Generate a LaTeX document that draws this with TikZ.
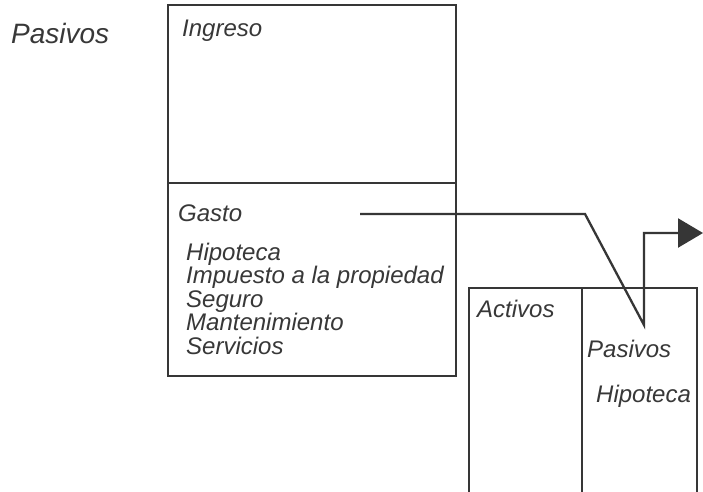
\documentclass[tikz,border=0pt]{standalone}
\usepackage{fontspec}
\setmainfont{Liberation Sans}
\usetikzlibrary{arrows.meta}
\definecolor{ink}{HTML}{363636}
\definecolor{txt}{HTML}{383838}
\begin{document}
\begin{tikzpicture}[x=1pt,y=-1pt,
  frame/.style={draw=ink,line width=2.3pt},
  lbl/.style={anchor=base west,inner sep=0pt,text=txt,font=\fontsize{24}{24}\selectfont\itshape},
  biglbl/.style={lbl,font=\fontsize{28}{28}\selectfont\itshape},
  conn/.style={draw=ink,line width=2.3pt,-{Triangle[length=25pt,width=29pt]}}]
\useasboundingbox[fill=white] (0,0) rectangle (703,491);
% upper T-account
\draw[frame] (168,5) rectangle (456,376);
\draw[frame] (168,183) -- (456,183);
% lower T-account
\draw[frame] (469,495) -- (469,288) -- (697,288) -- (697,495);
\draw[frame] (582,288) -- (582,495);
% labels
\node[biglbl] (pas0) at (11,43) {Pasivos};
\node[lbl] (ing) at (182,36) {Ingreso};
\node[lbl] (gas) at (178,221) {Gasto};
\node[lbl] (g1) at (186,260) {Hipoteca};
\node[lbl] (g2) at (186,283) {Impuesto a la propiedad};
\node[lbl] (g3) at (186,307) {Seguro};
\node[lbl] (g4) at (186,330) {Mantenimiento};
\node[lbl] (g5) at (186,354) {Servicios};
\node[lbl] (act) at (477,317) {Activos};
\node[lbl] (pas1) at (587,357) {Pasivos};
\node[lbl] (hip) at (596,402) {Hipoteca};
% connector
\coordinate (cs) at (360,214);
\coordinate (cb) at (585,214);
\coordinate (cd) at (644,325);
\coordinate (cu) at (644,233);
\coordinate (ce) at (703,233);
\draw[conn] (cs) -- (cb) -- (cd) -- (cu) -- (ce);
\end{tikzpicture}
\end{document}
